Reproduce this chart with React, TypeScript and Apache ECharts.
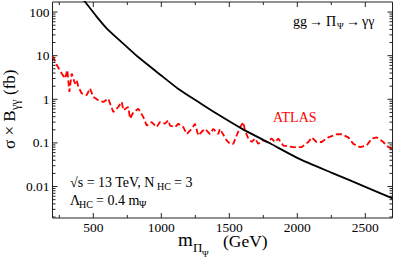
import React, { useEffect, useRef } from "react";
import * as echarts from "echarts";

// ---- data ----
const theoryMass = [420, 439, 520, 598, 700, 821, 1000, 1123, 1285, 1400, 1591, 1799, 2007, 2250, 2500, 2700];
const theoryXsec = [198, 172, 82, 42.4, 21.5, 9.8, 3.5, 1.75, 0.82, 0.483, 0.213, 0.098, 0.0443, 0.0209, 0.00986, 0.00535];

const atlasMass = [
  200, 231, 268, 292, 309, 324, 341, 365, 378, 390, 415, 451, 476, 500, 537, 574, 610, 647, 684, 709,
  721, 757, 770, 794, 831, 868, 893, 929, 966, 990, 1027, 1051, 1064, 1100, 1125, 1162, 1187, 1224, 1248, 1272,
  1297, 1321, 1358, 1382, 1419, 1431, 1480, 1505, 1529, 1554, 1579, 1603, 1615, 1640, 1665, 1690, 1713, 1750, 1775, 1812,
  1836, 1860, 1897, 1971, 2032, 2081, 2106, 2142, 2179, 2228, 2290, 2326, 2375, 2412, 2461, 2510, 2547, 2584, 2632, 2670, 2700,
];
const atlasLimit = [
  9.8, 6.1, 3.9, 3.0, 4.7, 1.48, 3.9, 2.3, 2.75, 1.93, 1.36, 1.24, 1.78, 1.13, 0.95, 0.87, 1.04, 0.51, 0.67, 0.87,
  0.56, 0.67, 0.36, 0.5, 0.61, 0.39, 0.25, 0.3, 0.23, 0.3, 0.275, 0.33, 0.25, 0.23, 0.275, 0.23, 0.16, 0.21, 0.275, 0.148,
  0.18, 0.21, 0.16, 0.21, 0.16, 0.21, 0.115, 0.095, 0.095, 0.148, 0.23, 0.3, 0.195, 0.126, 0.105, 0.126, 0.095, 0.115, 0.105, 0.126,
  0.105, 0.126, 0.087, 0.08, 0.08, 0.105, 0.134, 0.105, 0.105, 0.134, 0.158, 0.158, 0.134, 0.095, 0.08, 0.087, 0.126, 0.134, 0.105, 0.08, 0.072,
];

const xMajorTicks = [500, 1000, 1500, 2000, 2500];
const xMinorTicks = [250, 750, 1250, 1750, 2250];
const yMajorTicks = [0.01, 0.1, 1, 10, 100];
const yTickLabels = ["0.01", "0.1", "1", "10", "100"];
const yMinorMantissas = [2, 3, 4, 5, 6, 7, 8, 9];
const yMinorDecades = [0.001, 0.01, 0.1, 1, 10];

const X_MIN = 200;
const X_MAX = 2700;
const Y_MIN = 0.0019;
const Y_MAX = 170;

const SERIF = '"Liberation Serif", "Times New Roman", serif';

function tb(x: number, baseline: number, text: string, size: number, color = "#000") {
  return {
    type: "text",
    x,
    y: baseline - 0.3375 * size,
    silent: true,
    style: {
      text,
      fontSize: size,
      fontFamily: SERIF,
      fill: color,
      align: "left",
      verticalAlign: "middle",
      textAlign: "left",
      textVerticalAlign: "middle",
    },
  };
}

export default function App() {
  const ref = useRef<HTMLDivElement>(null);

  useEffect(() => {
    if (!ref.current) return;
    const chart = echarts.init(ref.current, null, { renderer: "svg" });

    const yMinor: number[] = [];
    yMinorDecades.forEach((d) =>
      yMinorMantissas.forEach((m) => {
        const v = d * m;
        if (v >= Y_MIN && v <= Y_MAX) yMinor.push(v);
      })
    );
    const xTickData = [
      ...xMajorTicks.map((v) => [v, 1, 1]),
      ...xMinorTicks.filter((v) => v > X_MIN && v < X_MAX).map((v) => [v, 1, 0]),
    ];
    const yTickData = [...yMajorTicks.map((v) => [1000, v, 1]), ...yMinor.map((v) => [1000, v, 0])];
    const tickStyle = { stroke: "#222", lineWidth: 1 };

    const option: any = {
      animation: false,
      backgroundColor: "#fff",
      textStyle: { fontFamily: SERIF },
      grid: {
        left: 52.5,
        right: 2.5,
        top: 2,
        bottom: 43,
        show: true,
        borderColor: "#222",
        borderWidth: 1,
        backgroundColor: "transparent",
        containLabel: false,
        outerBoundsMode: "none",
      },
      xAxis: {
        type: "value",
        min: X_MIN,
        max: X_MAX,
        splitNumber: 5,
        axisLine: { show: false },
        axisTick: { show: false },
        splitLine: { show: false },
        axisLabel: {
          margin: 2,
          fontFamily: SERIF,
          fontSize: 13.5,
          color: "#000",
          formatter: (v: number) => (xMajorTicks.indexOf(Math.round(v)) >= 0 && Math.abs(v - Math.round(v)) < 1e-6 ? String(Math.round(v)) : ""),
        },
      },
      yAxis: {
        type: "log",
        logBase: 10,
        min: Y_MIN,
        max: Y_MAX,
        axisLine: { show: false },
        axisTick: { show: false },
        splitLine: { show: false },
        axisLabel: {
          margin: 3,
          fontFamily: SERIF,
          fontSize: 13.5,
          color: "#000",
          formatter: (v: number) => {
            for (let i = 0; i < yMajorTicks.length; i++) {
              if (Math.abs(Math.log10(v) - Math.log10(yMajorTicks[i])) < 1e-6) return yTickLabels[i];
            }
            return "";
          },
        },
      },
      series: [
        {
          type: "line",
          data: atlasMass.map((m, i) => [m, atlasLimit[i]]),
          showSymbol: false,
          symbol: "none",
          lineStyle: { color: "#ff0000", width: 1.8, type: [6, 3] },
          z: 2,
        },
        {
          type: "line",
          data: theoryMass.map((m, i) => [m, theoryXsec[i]]),
          showSymbol: false,
          symbol: "none",
          smooth: 0.2,
          clip: true,
          lineStyle: { color: "#000", width: 1.8 },
          z: 3,
        },
        {
          type: "custom",
          silent: true,
          clip: false,
          z: 5,
          data: xTickData,
          renderItem: (params: any, api: any) => {
            const cs = params.coordSys;
            const px = api.coord([api.value(0), 1])[0];
            const len = api.value(2) ? 5 : 3;
            const b = cs.y + cs.height;
            return {
              type: "group",
              children: [
                { type: "line", shape: { x1: px, y1: b, x2: px, y2: b - len }, style: tickStyle },
                { type: "line", shape: { x1: px, y1: cs.y, x2: px, y2: cs.y + len }, style: tickStyle },
              ],
            };
          },
        },
        {
          type: "custom",
          silent: true,
          clip: false,
          z: 5,
          data: yTickData,
          renderItem: (params: any, api: any) => {
            const cs = params.coordSys;
            const py = api.coord([api.value(0), api.value(1)])[1];
            const len = api.value(2) ? 5 : 3;
            const r = cs.x + cs.width;
            return {
              type: "group",
              children: [
                { type: "line", shape: { x1: cs.x, y1: py, x2: cs.x + len, y2: py }, style: tickStyle },
                { type: "line", shape: { x1: r, y1: py, x2: r - len, y2: py }, style: tickStyle },
              ],
            };
          },
        },
      ],
      graphic: [
        // process label
        tb(293, 26, "gg", 14),
        tb(309, 26, "→", 14),
        tb(326, 26, "Π", 14),
        tb(337, 29.5, "Ψ", 9),
        tb(346, 26, "→", 14),
        tb(362, 26, "γγ", 14),
        // ATLAS
        tb(273, 122, "ATLAS", 14, "#ff0000"),
        // parameters
        tb(70, 187, "√s = 13 TeV, N", 14),
        tb(157, 190, "HC", 10),
        tb(174, 187, "= 3", 14),
        tb(70, 205, "Λ", 14),
        tb(79, 208, "HC", 10),
        tb(96, 205, "= 0.4 m", 14),
        tb(139, 208, "Ψ", 10),
        // x axis title
        tb(178, 246, "m", 19),
        tb(193, 252, "Π", 13),
        tb(202, 257.5, "Ψ", 9),
        tb(223, 247, "(GeV)", 17.5),
        // y axis title (rotated)
        {
          type: "group",
          x: 15,
          y: 149,
          rotation: Math.PI / 2,
          silent: true,
          children: [tb(0, 0, "σ × B", 17), tb(39, 4, "γγ", 12), tb(54, 0, "(fb)", 17)],
        },
      ],
    };

    chart.setOption(option);
    return () => chart.dispose();
  }, []);

  return (
    <div
      ref={ref}
      style={{ position: "fixed", left: 0, top: 0, width: 395, height: 261, background: "#fff" }}
    />
  );
}
